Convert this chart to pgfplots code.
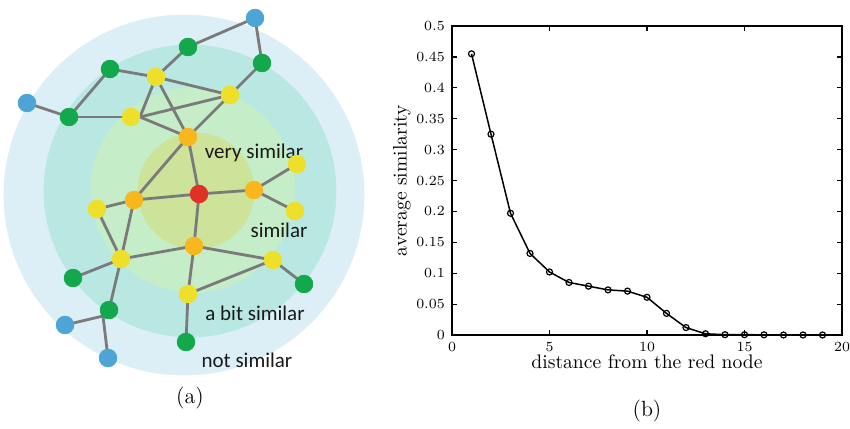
\documentclass[border=0pt]{standalone}
\usepackage{pgfplots}
\pgfplotsset{compat=1.18}
\usepackage{fontspec}
\newfontfamily\carlito{Carlito}
\definecolor{ringA}{HTML}{DCEFF6}
\definecolor{ringB}{HTML}{B9E8E2}
\definecolor{ringC}{HTML}{C5EDC7}
\definecolor{ringD}{HTML}{CDE39A}
\definecolor{nblue}{HTML}{4FA4D6}
\definecolor{ngreen}{HTML}{12A84B}
\definecolor{nyellow}{HTML}{EEE02A}
\definecolor{norange}{HTML}{F7B71D}
\definecolor{nred}{HTML}{E03127}
\definecolor{edge}{HTML}{7A7A7A}
\pgfplotsset{netaxis/.style={at={(0pt,214pt)}, anchor=north west, scale only axis,
  width=182.5pt, height=214pt, xmin=0, xmax=365, ymin=0, ymax=428,
  y dir=reverse, hide axis, clip=false},
  ed/.style={edge, line width=1.4pt}}
\begin{document}
\begin{tikzpicture}
\useasboundingbox (0,0) rectangle (425pt,214pt);
% ---------------- (a) rings ----------------
\begin{axis}[netaxis]
\addplot[only marks, mark=*, mark size=90pt, color=ringA] coordinates {(184,195)};
\addplot[only marks, mark=*, mark size=73pt, color=ringB] coordinates {(190,191)};
\addplot[only marks, mark=*, mark size=51pt, color=ringC] coordinates {(193,190)};
\addplot[only marks, mark=*, mark size=29pt, color=ringD] coordinates {(196,191)};
\end{axis}
% ---------------- (a) network ----------------
\begin{axis}[netaxis]
\addplot[ed] coordinates {(255,18) (188,47)};
\addplot[ed] coordinates {(255,18) (262,63)};
\addplot[ed] coordinates {(262,63) (230,95)};
\addplot[ed] coordinates {(188,47) (156,77)};
\addplot[ed] coordinates {(110,69) (156,77)};
\addplot[ed] coordinates {(110,69) (69,117)};
\addplot[ed] coordinates {(69,117) (27,103)};
\addplot[ed] coordinates {(69,117) (131,117)};
\addplot[ed] coordinates {(156,77) (230,95)};
\addplot[ed] coordinates {(156,77) (140,117)};
\addplot[ed] coordinates {(156,77) (188,137)};
\addplot[ed] coordinates {(230,95) (140,117)};
\addplot[ed] coordinates {(230,95) (188,137)};
\addplot[ed] coordinates {(140,117) (188,137)};
\addplot[ed] coordinates {(188,137) (199,194)};
\addplot[ed] coordinates {(188,137) (134,200)};
\addplot[ed] coordinates {(134,200) (199,194)};
\addplot[ed] coordinates {(134,200) (97,209)};
\addplot[ed] coordinates {(134,200) (121,259)};
\addplot[ed] coordinates {(199,194) (254,190)};
\addplot[ed] coordinates {(199,194) (194,246)};
\addplot[ed] coordinates {(254,190) (297,164)};
\addplot[ed] coordinates {(254,190) (295,211)};
\addplot[ed] coordinates {(194,246) (121,259)};
\addplot[ed] coordinates {(194,246) (273,260)};
\addplot[ed] coordinates {(194,246) (188,294)};
\addplot[ed] coordinates {(97,209) (121,259)};
\addplot[ed] coordinates {(121,259) (73,278)};
\addplot[ed] coordinates {(121,259) (109,310)};
\addplot[ed] coordinates {(273,260) (304,284)};
\addplot[ed] coordinates {(273,260) (188,294)};
\addplot[ed] coordinates {(188,294) (186,342)};
\addplot[ed] coordinates {(65,325) (103,316)};
\addplot[ed] coordinates {(103,316) (108,358)};
\addplot[only marks, mark=*, mark size=4.4pt, color=nblue] coordinates {(255,18) (27,103) (65,325) (108,358)};
\addplot[only marks, mark=*, mark size=4.4pt, color=ngreen] coordinates {(188,47) (262,63) (110,69) (69,117) (73,278) (109,310) (304,284) (186,342)};
\addplot[only marks, mark=*, mark size=4.4pt, color=nyellow] coordinates {(156,77) (230,95) (131,117) (297,164) (295,211) (97,209) (121,259) (273,260) (188,294)};
\addplot[only marks, mark=*, mark size=4.4pt, color=norange] coordinates {(188,137) (134,200) (254,190) (194,246)};
\addplot[only marks, mark=*, mark size=4.4pt, color=nred] coordinates {(199,194)};
\node[font=\carlito\fontsize{10.5}{12}\selectfont, text=black!90] at (axis cs:254,153) {very similar};
\node[font=\carlito\fontsize{10.5}{12}\selectfont, text=black!90] at (axis cs:279,230) {similar};
\node[font=\carlito\fontsize{10.5}{12}\selectfont, text=black!90] at (axis cs:255,313) {a bit similar};
\node[font=\carlito\fontsize{10.5}{12}\selectfont, text=black!90] at (axis cs:247,360) {not similar};
\node[font=\fontsize{11}{13}\selectfont] at (axis cs:190,398) {(a)};
\end{axis}
% ---------------- (b) plot ----------------
\begin{axis}[at={(226pt,46.5pt)}, anchor=south west, scale only axis,
  width=195pt, height=154.5pt,
  xmin=0, xmax=20, ymin=0, ymax=0.5,
  xtick={0,5,10,15,20},
  ytick={0,0.05,0.1,0.15,0.2,0.25,0.3,0.35,0.4,0.45,0.5},
  yticklabel style={/pgf/number format/fixed, /pgf/number format/precision=2},
  tick label style={font=\fontsize{6.8}{7}\selectfont},
  major tick length=2.5pt,
  tick style={black, line width=0.6pt},
  axis line style={line width=0.7pt},
  xlabel={distance from the red node},
  ylabel={average similarity},
  label style={font=\fontsize{9.8}{11}\selectfont},
  xlabel style={yshift=5pt},
  ylabel style={yshift=-4pt},
  clip=false]
\addplot[black, line width=0.75pt, mark=o, mark size=1.5pt, mark options={line width=0.6pt}] coordinates {
(1,0.455) (2,0.325) (3,0.197) (4,0.132) (5,0.102) (6,0.085) (7,0.079) (8,0.073) (9,0.071) (10,0.061)
(11,0.035) (12,0.012) (13,0.002) (14,0.0005) (15,0.0005) (16,0.0003) (17,0) (18,0) (19,0)};
\node[font=\fontsize{11}{13}\selectfont] at (axis cs:10,-0.1225) {(b)};
\end{axis}
\end{tikzpicture}
\end{document}
